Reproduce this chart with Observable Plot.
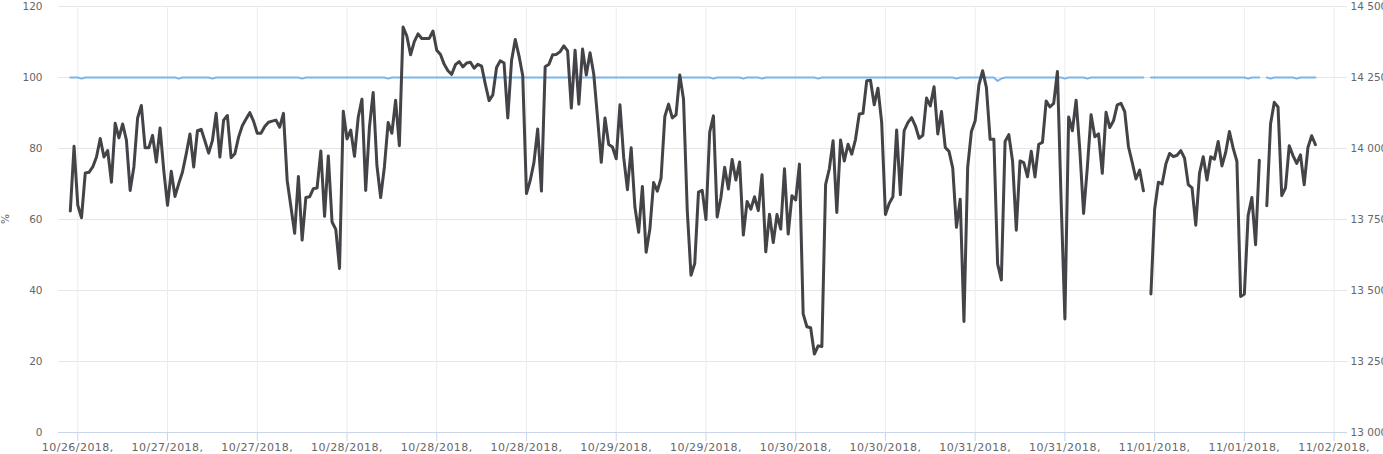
<!DOCTYPE html>
<html><head><meta charset="utf-8">
<script src="https://cdn.jsdelivr.net/npm/d3@7"></script>
<script src="https://cdn.jsdelivr.net/npm/@observablehq/plot@0.6"></script>
<style>
html,body{margin:0;padding:0;background:#fff;overflow:hidden}
#chart{width:1383px;height:454px;position:relative}
</style></head><body><div id="chart"></div>
<script>
// Tick labels of the time axis (one every 12 hours)
const tickLabels = ["10/26/2018,","10/27/2018,","10/27/2018,","10/28/2018,","10/28/2018,","10/28/2018,","10/29/2018,","10/29/2018,","10/30/2018,","10/30/2018,","10/31/2018,","10/31/2018,","11/01/2018,","11/01/2018,","11/02/2018,"];
const leftTicks = [0,20,40,60,80,100,120];
const rightTicks = [13000,13250,13500,13750,14000,14250,14500];

// Black series (%), one sample every 30 minutes
const pctValues = [
62.4,80.6,64.0,60.5,73.1,73.3,74.8,77.6,82.8,77.6,
79.4,70.5,87.1,83.0,86.9,82.4,68.2,74.8,88.6,92.1,
80.2,80.2,83.7,76.2,85.8,73.8,64.0,73.6,66.5,70.1,
73.4,78.5,84.1,74.8,85.0,85.4,82.1,78.7,82.2,89.9,
77.6,88.0,89.3,77.4,78.5,83.2,86.4,88.3,90.1,87.7,
84.3,84.3,86.2,87.4,87.7,88.0,86.0,89.9,71.0,63.6,
56.1,72.1,54.2,66.2,66.4,68.7,68.9,79.3,60.9,77.9,
59.3,57.2,46.2,90.5,82.7,85.2,77.8,88.8,93.9,68.2,
86.0,95.8,75.2,66.2,74.8,87.3,84.3,93.6,80.8,114.2,
111.7,106.4,110.1,112.3,111.0,111.0,111.0,113.1,107.7,106.5,
103.7,101.9,100.9,103.6,104.5,103.0,104.1,104.3,102.6,103.7,
103.2,98.1,93.5,95.1,102.8,104.7,104.1,88.6,104.7,110.7,
106.1,100.5,67.3,71.0,76.1,85.5,68.0,103.0,103.7,106.4,
106.5,107.3,108.9,107.5,91.4,107.7,92.5,108.0,100.7,107.0,
100.9,88.8,76.1,88.6,81.1,80.4,77.1,92.3,77.5,68.4,
80.2,63.5,56.4,69.3,50.8,57.3,70.4,68.0,71.7,89.0,
92.5,88.6,89.5,100.7,93.9,62.6,44.3,47.6,67.7,68.2,
60.0,84.6,89.2,60.7,66.2,74.7,68.6,76.9,71.1,76.2,
55.6,65.1,62.9,66.4,62.5,72.6,50.9,61.5,53.5,61.4,
57.3,74.3,55.9,66.7,65.5,75.6,33.4,29.8,29.5,22.1,
24.4,24.2,69.8,74.3,82.2,62.0,82.4,76.5,81.2,78.4,
82.6,89.7,89.9,99.1,99.2,92.3,97.0,87.3,61.4,64.5,
66.4,85.2,67.0,85.0,87.3,88.7,86.4,82.9,83.7,94.2,
92.0,97.4,84.1,90.4,80.3,79.2,74.5,57.8,65.7,31.3,
74.7,84.8,87.8,97.9,101.9,97.2,82.6,82.6,47.5,43.0,
82.0,83.9,76.5,57.0,76.5,76.0,72.0,79.2,72.0,81.2,
81.7,93.4,91.7,92.7,101.7,65.0,32.0,88.9,85.0,93.6,
79.4,61.7,74.7,89.5,83.3,84.1,73.0,90.2,85.9,87.8,
92.3,92.7,90.4,80.5,76.1,71.4,73.9,68.1,null,39.0,
62.9,70.5,70.0,75.6,78.6,77.7,78.1,79.4,77.3,69.8,
68.9,58.4,73.0,77.7,71.1,77.7,77.0,82.0,75.1,78.9,
84.8,80.1,76.4,38.3,39.0,61.1,66.2,52.9,76.7,null,
63.9,86.9,93.0,91.7,66.7,68.9,80.8,78.0,75.8,78.2,
69.8,80.3,83.6,81.1
];

// Blue series (right axis), same timestamps
const rightValues = [
14250,14250,14250,14246,14250,14250,14250,14250,14250,14250,
14250,14250,14250,14250,14250,14250,14250,14250,14250,14250,
14250,14250,14250,14250,14250,14250,14250,14250,14250,14246,
14250,14250,14250,14250,14250,14250,14250,14250,14246,14250,
14250,14250,14250,14250,14250,14250,14250,14250,14250,14250,
14250,14250,14250,14250,14250,14250,14250,14250,14250,14250,
14250,14250,14246,14250,14250,14250,14250,14250,14250,14250,
14250,14250,14250,14250,14250,14250,14250,14250,14250,14250,
14250,14250,14250,14250,14250,14246,14250,14250,14250,14250,
14250,14250,14250,14250,14250,14250,14250,14250,14250,14250,
14250,14250,14250,14250,14250,14250,14250,14250,14250,14250,
14250,14250,14250,14250,14250,14250,14250,14250,14250,14250,
14250,14250,14250,14250,14250,14250,14250,14250,14250,14250,
14250,14250,14250,14250,14250,14250,14250,14250,14250,14250,
14250,14250,14250,14250,14250,14250,14250,14250,14250,14250,
14250,14250,14250,14250,14250,14250,14250,14250,14250,14250,
14250,14250,14250,14250,14250,14250,14250,14250,14250,14250,
14250,14250,14246,14250,14250,14250,14250,14250,14250,14250,
14246,14250,14250,14250,14250,14246,14250,14250,14250,14250,
14250,14250,14250,14250,14250,14250,14250,14250,14250,14250,
14246,14250,14250,14250,14250,14250,14250,14250,14250,14250,
14250,14250,14250,14250,14250,14250,14250,14250,14250,14250,
14250,14250,14250,14250,14250,14250,14250,14250,14250,14250,
14250,14250,14250,14250,14250,14250,14250,14246,14250,14250,
14250,14250,14250,14250,14250,14250,14250,14250,14238,14246,
14250,14250,14250,14250,14250,14250,14250,14250,14250,14250,
14250,14250,14250,14250,14250,14250,14246,14250,14250,14250,
14250,14250,14246,14250,14250,14250,14250,14250,14250,14250,
14250,14250,14250,14250,14250,14250,14250,14250,null,14250,
14250,14250,14250,14250,14250,14250,14250,14250,14250,14250,
14250,14250,14250,14250,14250,14250,14250,14250,14250,14250,
14250,14250,14250,14250,14250,14246,14250,14250,14250,null,
14250,14246,14250,14250,14250,14250,14250,14250,14246,14250,
14250,14250,14250,14250
];

const startTime = Date.UTC(2018, 9, 26, 11, 0);   // first sample
const stepMs = 30 * 60 * 1000;
const firstTick = Date.UTC(2018, 9, 26, 12, 0);
const tickStepMs = 12 * 3600 * 1000;
const hour = 3600 * 1000;

const tickDates = tickLabels.map((_, k) => new Date(firstTick + k * tickStepMs));
const rows = pctValues.map((v, i) => ({t: new Date(startTime + i * stepMs), pct: v, right: rightValues[i]}));
const toLeft = v => v == null ? null : (v - 13000) / 12.5;
const spaceFmt = n => d3.format(",")(n).replace(/,/g, " ");

const chart = Plot.plot({
  width: 1383, height: 454,
  marginLeft: 58, marginRight: 36, marginTop: 6, marginBottom: 22,
  style: {fontFamily: "'DejaVu Sans', Verdana, sans-serif", fontSize: "11px", background: "#fff", color: "#666", overflow: "visible"},
  x: {type: "utc", domain: [new Date(firstTick - 2.58 * hour), new Date(firstTick + 169.79 * hour)]},
  y: {domain: [0, 120]},
  marks: [
    Plot.gridY(leftTicks, {stroke: "#e6e6e6", strokeOpacity: 1}),
    Plot.gridX(tickDates, {stroke: "#ececec", strokeOpacity: 1}),
    Plot.ruleY([0], {stroke: "#ccd6eb"}),
    Plot.axisX(tickDates, {tickSize: 9, tickPadding: 2, stroke: "#ccd6eb", fill: "#666", fontSize: 11,
      tickFormat: d => tickLabels[Math.round((d - firstTick) / tickStepMs)], label: null}),
    Plot.axisY(leftTicks, {anchor: "left", tickSize: 0, tickPadding: 16, fill: "#666", fontSize: 10.5, label: null}),
    Plot.axisY(rightTicks.map(toLeft), {anchor: "right", tickSize: 0, tickPadding: 3, fill: "#666", fontSize: 10.5,
      tickFormat: v => spaceFmt(Math.round(13000 + v * 12.5)), label: null}),
    Plot.line(rows, {x: "t", y: d => toLeft(d.right), stroke: "#7cb5ec", strokeWidth: 2, strokeLinejoin: "round"}),
    Plot.line(rows, {x: "t", y: "pct", stroke: "#434348", strokeWidth: 3, strokeLinejoin: "round", strokeLinecap: "round"})
  ]
});
document.getElementById("chart").appendChild(chart);
// slight letter spacing on the date labels, as in the reference
d3.select(chart).selectAll("g[aria-label='x-axis tick label'] text").style("letter-spacing", "0.45px");
d3.select(chart).append("text")
  .attr("transform", "translate(9,219) rotate(-90)")
  .attr("text-anchor", "middle")
  .attr("fill", "#666")
  .attr("font-size", 10.5)
  .text("%");
</script></body></html>
